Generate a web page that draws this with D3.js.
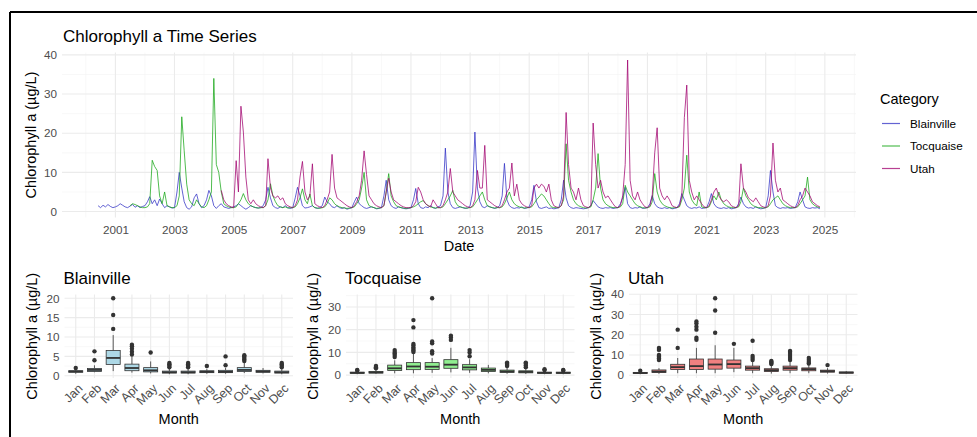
<!DOCTYPE html>
<html><head><meta charset="utf-8">
<script src="https://cdn.jsdelivr.net/npm/d3@7"></script>
<style>
body{margin:0;background:#fff;}
svg text{font-family:"Liberation Sans",Arial,sans-serif;}
</style>
</head><body>
<svg id="chart" width="977" height="437"></svg>
<script>
// ---------------- DATA ----------------
const seriesNames = ["Blainville", "Tocquaise", "Utah"];
const seriesColors = ["#2f2fc4", "#16a516", "#a0006e"];
const boxFills = ["#ADD8E6", "#90EE90", "#F08080"];
const monthLabels = ["Jan","Feb","Mar","Apr","May","Jun","Jul","Aug","Sep","Oct","Nov","Dec"];
const yearTicks = [2001,2003,2005,2007,2009,2011,2013,2015,2017,2019,2021,2023,2025];
const topYTicks = [0,10,20,30,40];

// monthly values (start year, start month index 0-11)
const blainvilleStart = [2000, 5];
const blainvilleValues = [
  /*2000*/ 1.5,1.0,1.6,1.2,1.8,1.3,1.0,
  /*2001*/ 1.2,1.5,2.0,1.6,1.2,1.0,1.4,1.8,1.1,1.5,1.0,1.3,
  /*2002*/ 1.5,2.5,3.8,2.0,3.0,1.5,3.2,2.0,1.0,1.5,1.2,0.9,
  /*2003*/ 1.0,5.0,10.0,6.0,2.5,1.0,0.6,1.2,3.5,4.5,2.0,1.0,
  /*2004*/ 1.5,3.0,5.4,4.0,1.5,0.8,1.5,2.0,1.2,1.0,0.8,1.0,
  /*2005*/ 1.2,1.5,2.0,1.5,1.0,0.6,1.0,1.5,1.2,1.0,0.9,1.0,
  /*2006*/ 1.5,3.0,6.2,3.5,1.5,1.0,0.8,1.2,1.0,1.5,1.0,0.8,
  /*2007*/ 1.0,3.5,6.2,4.0,1.5,0.9,1.0,1.2,1.5,1.0,0.8,1.0,
  /*2008*/ 1.5,3.7,2.5,2.0,1.2,1.0,1.5,1.0,0.8,1.0,0.6,0.8,
  /*2009*/ 1.0,2.5,3.7,2.0,1.5,1.0,0.8,1.0,1.2,1.0,0.7,0.8,
  /*2010*/ 1.0,4.0,8.0,3.0,1.5,1.0,0.8,1.2,1.0,0.8,0.7,0.8,
  /*2011*/ 1.0,3.0,5.9,2.0,1.0,0.8,1.2,1.0,1.5,1.0,0.8,1.2,
  /*2012*/ 1.5,4.0,16.2,5.0,2.0,1.0,0.8,1.0,1.2,1.0,0.8,0.9,
  /*2013*/ 1.5,5.0,20.3,6.0,2.5,1.2,1.0,1.5,1.2,1.0,0.8,1.0,
  /*2014*/ 1.5,4.0,12.3,3.0,1.5,1.0,0.8,1.0,0.9,1.2,0.8,0.9,
  /*2015*/ 1.2,3.0,6.7,2.5,1.0,0.8,1.0,1.2,0.8,0.9,0.7,0.8,
  /*2016*/ 1.0,3.0,8.0,3.5,1.5,1.0,0.8,1.0,0.9,0.8,0.7,0.8,
  /*2017*/ 1.0,1.5,2.8,2.0,1.2,0.9,0.8,1.0,0.9,1.0,0.8,0.9,
  /*2018*/ 1.0,2.0,3.5,6.2,2.0,1.0,0.8,1.0,0.9,1.2,0.8,0.9,
  /*2019*/ 1.0,2.0,4.1,2.0,1.2,0.9,0.8,1.0,0.8,1.0,0.7,0.8,
  /*2020*/ 1.0,2.0,4.6,3.0,1.5,1.0,0.8,1.0,0.9,1.2,0.8,0.9,
  /*2021*/ 1.0,2.5,4.6,2.0,1.2,0.9,0.8,1.0,0.8,1.0,0.7,0.8,
  /*2022*/ 1.0,2.0,3.7,2.0,1.2,0.9,1.0,0.8,1.2,0.9,0.7,0.8,
  /*2023*/ 1.0,4.0,10.5,5.0,1.5,1.0,0.8,1.0,0.9,1.0,0.8,0.9,
  /*2024*/ 1.0,2.5,5.0,3.0,1.2,0.9,0.8,1.0,0.9,1.0,0.7
];
const tocquaiseStart = [2001, 6];
const tocquaiseValues = [
  /*2001*/ 1.5,2.0,1.8,1.5,1.2,1.0,
  /*2002*/ 1.0,1.2,2.0,13.1,11.5,10.5,4.0,2.0,5.0,1.5,1.2,1.0,
  /*2003*/ 1.0,1.5,4.0,24.2,15.5,7.0,3.0,2.0,1.5,3.0,2.0,1.2,
  /*2004*/ 1.0,1.5,3.0,5.0,34.0,12.0,10.0,5.0,2.0,1.5,1.2,1.0,
  /*2005*/ 1.0,1.2,2.0,3.0,4.6,3.0,2.0,1.5,1.2,1.0,0.9,1.0,
  /*2006*/ 1.0,1.5,3.0,7.1,4.0,2.5,1.5,1.2,1.0,1.2,0.9,1.0,
  /*2007*/ 1.0,1.2,2.0,3.5,5.8,3.0,2.0,4.5,1.5,1.0,0.9,0.8,
  /*2008*/ 1.0,1.2,2.0,3.5,3.0,2.0,1.5,1.2,1.0,0.9,0.8,0.9,
  /*2009*/ 1.0,1.2,2.0,3.0,6.0,10.0,3.0,1.5,1.2,1.0,0.8,0.9,
  /*2010*/ 1.0,1.5,5.0,9.7,4.0,2.5,1.5,1.2,1.0,0.9,0.8,0.9,
  /*2011*/ 1.0,1.2,1.5,2.0,2.5,2.8,2.0,1.5,1.2,1.0,0.9,1.0,
  /*2012*/ 1.0,1.2,2.0,3.0,4.0,5.4,2.5,1.5,1.2,1.0,0.9,0.9,
  /*2013*/ 1.0,1.2,2.0,3.0,4.0,5.0,3.0,1.5,1.2,1.0,0.9,1.0,
  /*2014*/ 1.0,1.2,2.0,3.5,5.0,3.0,2.0,1.5,1.2,1.0,0.9,1.0,
  /*2015*/ 1.0,1.2,2.0,3.0,3.7,4.5,4.0,3.0,2.0,1.2,1.0,1.0,
  /*2016*/ 1.0,1.5,3.0,17.3,8.0,5.0,3.0,2.0,1.5,1.2,1.0,0.9,
  /*2017*/ 1.0,1.2,3.0,6.0,14.8,6.0,3.0,2.0,1.5,1.2,1.0,1.0,
  /*2018*/ 1.0,1.2,2.0,6.7,5.0,4.0,3.0,2.0,1.5,1.2,1.0,0.9,
  /*2019*/ 1.0,1.2,2.5,9.7,5.0,3.0,2.0,1.5,1.2,1.0,0.9,1.0,
  /*2020*/ 1.0,1.2,3.0,6.0,14.4,5.0,3.0,2.0,1.5,5.0,1.2,1.0,
  /*2021*/ 1.0,1.2,2.5,4.0,3.0,5.0,3.0,2.0,1.5,1.2,1.0,1.0,
  /*2022*/ 1.0,1.2,2.5,6.0,4.0,3.0,2.0,1.5,1.2,1.0,1.0,0.9,
  /*2023*/ 1.0,1.2,2.0,3.0,3.5,4.0,3.0,2.0,1.5,1.2,1.0,1.0,
  /*2024*/ 1.0,1.2,2.0,3.0,4.0,8.8,3.0,2.0,1.5,1.2,1.0
];
const utahStart = [2004, 7];
const utahValues = [
  /*2004*/ 5.4,3.0,2.0,1.5,1.2,
  /*2005*/ 1.0,13.0,5.0,26.9,20.3,8.8,3.0,2.0,3.0,2.0,1.5,1.2,
  /*2006*/ 1.0,1.5,13.5,6.0,4.0,3.5,4.0,3.0,3.5,2.0,1.5,1.2,
  /*2007*/ 1.0,1.5,3.0,8.8,12.8,5.0,3.0,4.0,12.2,2.0,1.5,1.2,
  /*2008*/ 1.0,1.5,3.0,5.0,14.6,6.0,3.5,3.0,2.5,2.0,1.5,1.2,
  /*2009*/ 1.0,1.5,2.5,4.0,8.0,15.5,9.5,4.0,3.0,2.0,1.5,1.2,
  /*2010*/ 1.0,1.5,5.0,8.5,5.0,3.0,2.5,2.0,1.5,1.2,1.0,1.0,
  /*2011*/ 1.0,1.5,2.5,6.2,5.0,3.0,2.0,1.5,1.2,3.0,2.0,1.0,
  /*2012*/ 1.0,1.5,3.0,5.0,11.0,5.0,4.0,3.0,2.5,2.0,1.5,1.2,
  /*2013*/ 1.0,1.5,3.0,10.5,6.0,6.0,16.9,3.0,2.5,2.0,1.5,1.2,
  /*2014*/ 1.0,1.5,3.0,5.0,6.0,12.4,4.0,7.0,3.0,2.0,1.5,1.2,
  /*2015*/ 1.0,1.5,6.0,7.0,6.0,7.0,6.5,5.0,7.0,3.0,1.5,1.2,
  /*2016*/ 1.0,1.5,4.0,25.3,12.0,6.0,5.0,3.0,6.0,3.0,1.5,1.2,
  /*2017*/ 1.0,1.5,22.6,12.0,6.0,8.0,5.0,3.5,4.0,3.0,2.0,1.2,
  /*2018*/ 1.0,1.5,4.0,12.0,38.7,8.0,4.0,3.0,5.0,3.0,2.0,1.2,
  /*2019*/ 1.0,1.5,4.0,15.0,21.4,6.0,4.0,3.0,4.0,3.0,1.5,1.2,
  /*2020*/ 1.0,1.5,4.0,24.0,32.3,8.0,5.0,3.0,4.0,3.0,2.0,1.2,
  /*2021*/ 1.0,1.5,3.0,5.0,6.0,4.0,3.0,2.5,3.0,2.5,1.5,1.2,
  /*2022*/ 1.0,1.5,12.2,6.0,5.0,3.5,3.0,2.5,3.5,2.5,1.5,1.2,
  /*2023*/ 1.0,1.5,4.0,17.5,8.0,5.0,6.0,3.0,2.5,2.0,1.5,1.2,
  /*2024*/ 1.0,1.5,3.0,4.0,6.0,5.0,4.0,2.5,2.0,1.5,1.2
];

// monthly boxplot statistics: [lower whisker, Q1, median, Q3, upper whisker]
const blainvilleBoxStats = [
  [0.5,0.9,1.1,1.3,1.8],[0.9,1.1,1.5,1.9,2.7],[1.2,2.9,4.6,6.5,10.5],[0.8,1.3,2.0,3.0,5.0],
  [0.6,1.0,1.4,2.1,3.7],[0.4,0.7,0.9,1.2,1.8],[0.4,0.7,0.9,1.2,1.7],[0.5,0.8,1.0,1.3,1.8],
  [0.5,0.8,1.0,1.4,2.0],[0.7,1.1,1.5,2.1,3.3],[0.6,0.9,1.1,1.4,2.0],[0.4,0.7,0.9,1.2,1.7]
];
const blainvilleOutliers = [
  [2.0],[4.0,6.3],[12.1,15.7,20.0],[5.5,6.2,7.0,7.6,8.0],[6.0],[2.2,2.6,3.0,3.3],
  [2.2,2.6,3.0,3.3],[2.5],[2.7,5.0],[3.8,4.2,4.6,5.0,5.3],[],[2.2,2.6,3.0,3.3]
];
const tocquaiseBoxStats = [
  [0.4,0.8,1.0,1.3,1.8],[0.5,0.9,1.2,1.6,2.4],[0.8,2.0,3.0,4.4,6.5],[0.8,2.4,3.8,5.5,9.5],
  [1.0,2.5,3.7,5.5,7.5],[1.2,3.0,4.6,6.8,12.0],[1.0,2.3,3.4,4.6,7.0],[0.8,1.6,2.3,3.1,4.5],
  [0.6,1.2,1.6,2.2,3.5],[0.5,1.0,1.4,1.9,3.0],[0.4,0.8,1.0,1.3,1.8],[0.4,0.8,1.0,1.3,1.8]
];
const tocquaiseOutliers = [
  [2.0,2.3],[3.0,3.5,4.0],[8.0,8.8,9.5,10.2,11.0],[10.2,10.8,11.5,12.2,13.0,13.7,21.0,24.2],
  [9.5,10.5,14.0,14.8,33.8],[15.5,16.5,17.3],[8.3,10.0,11.0],[],
  [4.0,4.5,5.0,5.5],[3.5,4.2,5.0,5.5],[2.2,2.6],[2.0,2.3]
];
const utahBoxStats = [
  [0.5,0.9,1.1,1.4,1.9],[0.7,1.3,1.8,2.6,3.5],[1.0,2.8,4.0,5.4,8.5],[1.0,2.8,4.5,8.0,13.5],
  [1.0,3.0,5.3,8.0,14.8],[1.5,3.5,5.5,7.5,13.5],[1.0,2.5,3.5,4.5,6.5],[0.8,1.8,2.5,3.2,4.8],
  [1.0,2.5,3.5,4.5,6.5],[1.0,2.2,3.0,3.6,5.0],[0.8,1.5,2.0,2.5,3.5],[0.6,1.0,1.3,1.6,2.0]
];
const utahOutliers = [
  [2.2],[7.5,8.2,9.0,9.5,10.0,12.5,13.5],[13.5,22.5],[17.5,18.5,22.5,24.0,25.5,26.5],
  [21.0,32.0,38.0],[15.5],[7.5,8.5,9.5,17.0],[5.5,6.0,6.5,7.0],
  [7.5,8.5,9.5,10.5,11.5,12.0],[5.8,6.5,7.5,8.5],[5.0],[]
];

// ---------------- DRAWING ----------------
const svg = d3.select("#chart");
const tickColor = "#4D4D4D", gridMajor = "#EBEBEB", gridMinor = "#F3F3F3";

// outer frame (top and left edge)
svg.append("line").attr("x1", 10).attr("x2", 977).attr("y1", 12).attr("y2", 12).attr("stroke", "#000").attr("stroke-width", 2);
svg.append("line").attr("x1", 10).attr("x2", 10).attr("y1", 12).attr("y2", 437).attr("stroke", "#000").attr("stroke-width", 2);

function toSeries(start, vals) {
  return vals.map((v, i) => ({ date: new Date(start[0], start[1] + i, 1), value: v }));
}
const seriesData = [
  toSeries(blainvilleStart, blainvilleValues),
  toSeries(tocquaiseStart, tocquaiseValues),
  toSeries(utahStart, utahValues)
];

function expand(ext, f = 0.05) {
  const d = ext[1] - ext[0];
  return [ext[0] - d * f, ext[1] + d * f];
}

// ---- top time series panel
const P = { l: 62, r: 856, t: 52.5, b: 217.5 };
const allPts = seriesData.flat();
const tExt = d3.extent(allPts, d => +d.date);
const x = d3.scaleTime().domain(expand(tExt).map(v => new Date(v))).range([P.l, P.r]);
const vExt = d3.extent(allPts, d => d.value);
const y = d3.scaleLinear().domain(expand([Math.min(0.4, vExt[0]), vExt[1]])).range([P.b, P.t]);

const gTop = svg.append("g");
const minorYears = d3.range(1998, 2030, 2).map(yr => new Date(yr, 0, 1)).filter(d => d >= x.domain()[0] && d <= x.domain()[1]);
gTop.selectAll(".vminor").data(minorYears).join("line")
  .attr("x1", d => x(d)).attr("x2", d => x(d)).attr("y1", P.t).attr("y2", P.b)
  .attr("stroke", gridMinor).attr("stroke-width", 0.6);
gTop.selectAll(".hminor").data([5, 15, 25, 35]).join("line")
  .attr("x1", P.l).attr("x2", P.r).attr("y1", d => y(d)).attr("y2", d => y(d))
  .attr("stroke", gridMinor).attr("stroke-width", 0.6);
gTop.selectAll(".vmajor").data(yearTicks.map(yr => new Date(yr, 0, 1))).join("line")
  .attr("x1", d => x(d)).attr("x2", d => x(d)).attr("y1", P.t).attr("y2", P.b)
  .attr("stroke", gridMajor).attr("stroke-width", 1.1);
gTop.selectAll(".hmajor").data(topYTicks).join("line")
  .attr("x1", P.l).attr("x2", P.r).attr("y1", d => y(d)).attr("y2", d => y(d))
  .attr("stroke", gridMajor).attr("stroke-width", 1.1);

const line = d3.line().x(d => x(d.date)).y(d => y(d.value));
seriesData.forEach((s, i) => {
  gTop.append("path").datum(s).attr("d", line)
    .attr("fill", "none").attr("stroke", seriesColors[i])
    .attr("stroke-width", 1).attr("stroke-opacity", 0.75).attr("stroke-linejoin", "round");
});

const xAxis = d3.axisBottom(x).tickValues(yearTicks.map(yr => new Date(yr, 0, 1)))
  .tickFormat(d3.timeFormat("%Y")).tickSize(0).tickPadding(8);
const gx = svg.append("g").attr("transform", `translate(0,${P.b})`).call(xAxis);
gx.select(".domain").remove();
gx.selectAll("text").attr("fill", tickColor).style("font-size", "11.7px");

const yAxis = d3.axisLeft(y).tickValues(topYTicks).tickSize(0).tickPadding(5);
const gy = svg.append("g").attr("transform", `translate(${P.l},0)`).call(yAxis);
gy.select(".domain").remove();
gy.selectAll("text").attr("fill", tickColor).style("font-size", "11.7px");

svg.append("text").attr("x", (P.l + P.r) / 2).attr("y", 251).attr("text-anchor", "middle")
  .style("font-size", "14.5px").attr("fill", "#000").text("Date");
svg.append("text").attr("transform", `translate(36,${(P.t + P.b) / 2}) rotate(-90)`)
  .attr("text-anchor", "middle").style("font-size", "14.5px").attr("fill", "#000")
  .text("Chlorophyll a (µg/L)");
svg.append("text").attr("x", 63).attr("y", 42).style("font-size", "17px").attr("fill", "#000")
  .text("Chlorophyll a Time Series");

// legend
const lg = svg.append("g");
lg.append("text").attr("x", 880).attr("y", 104).style("font-size", "14.5px").attr("fill", "#000").text("Category");
seriesNames.forEach((n, i) => {
  const yy = 123.5 + i * 22.5;
  lg.append("line").attr("x1", 882).attr("x2", 900).attr("y1", yy).attr("y2", yy)
    .attr("stroke", seriesColors[i]).attr("stroke-width", 1.2).attr("stroke-opacity", 0.75);
  lg.append("text").attr("x", 910).attr("y", yy).attr("dy", "0.35em")
    .style("font-size", "11.7px").attr("fill", "#000").text(n);
});

// ---- boxplot panels
const boxPanels = [
  { name: "Blainville", stats: blainvilleBoxStats, outliers: blainvilleOutliers, fill: boxFills[0], l: 64.5, r: 293, ticks: [0,5,10,15,20], minor: [2.5,7.5,12.5,17.5] },
  { name: "Tocquaise", stats: tocquaiseBoxStats, outliers: tocquaiseOutliers, fill: boxFills[1], l: 346, r: 574.5, ticks: [0,10,20,30], minor: [5,15,25,35] },
  { name: "Utah", stats: utahBoxStats, outliers: utahOutliers, fill: boxFills[2], l: 629, r: 857.5, ticks: [0,10,20,30,40], minor: [5,15,25,35] }
];
const BT = 294.5, BB = 378;

boxPanels.forEach(p => {
  const g = svg.append("g");
  const xb = d3.scalePoint().domain(monthLabels).range([p.l, p.r]).padding(0.6);
  const allV = p.stats.flat().concat(p.outliers.flat());
  const yb = d3.scaleLinear().domain(expand(d3.extent(allV))).range([BB, BT]);
  const bw = xb.step() * 0.75;

  g.selectAll(".hmin").data(p.minor.filter(v => v <= yb.domain()[1])).join("line")
    .attr("x1", p.l).attr("x2", p.r).attr("y1", d => yb(d)).attr("y2", d => yb(d))
    .attr("stroke", gridMinor).attr("stroke-width", 0.6);
  g.selectAll(".hmaj").data(p.ticks).join("line")
    .attr("x1", p.l).attr("x2", p.r).attr("y1", d => yb(d)).attr("y2", d => yb(d))
    .attr("stroke", gridMajor).attr("stroke-width", 1.1);
  g.selectAll(".vmaj").data(monthLabels).join("line")
    .attr("x1", d => xb(d)).attr("x2", d => xb(d)).attr("y1", BT).attr("y2", BB)
    .attr("stroke", gridMajor).attr("stroke-width", 1.1);

  const boxes = g.selectAll(".box").data(p.stats.map((s, i) => ({ m: monthLabels[i], s, o: p.outliers[i] }))).join("g");
  boxes.append("line").attr("x1", d => xb(d.m)).attr("x2", d => xb(d.m))
    .attr("y1", d => yb(d.s[0])).attr("y2", d => yb(d.s[1])).attr("stroke", "#333").attr("stroke-width", 0.8);
  boxes.append("line").attr("x1", d => xb(d.m)).attr("x2", d => xb(d.m))
    .attr("y1", d => yb(d.s[3])).attr("y2", d => yb(d.s[4])).attr("stroke", "#333").attr("stroke-width", 0.8);
  boxes.append("rect").attr("x", d => xb(d.m) - bw / 2).attr("width", bw)
    .attr("y", d => yb(d.s[3])).attr("height", d => Math.max(0.5, yb(d.s[1]) - yb(d.s[3])))
    .attr("fill", p.fill).attr("stroke", "#333").attr("stroke-width", 0.8);
  boxes.append("line").attr("x1", d => xb(d.m) - bw / 2).attr("x2", d => xb(d.m) + bw / 2)
    .attr("y1", d => yb(d.s[2])).attr("y2", d => yb(d.s[2])).attr("stroke", "#333").attr("stroke-width", 1.8);
  boxes.selectAll("circle").data(d => d.o.map(v => ({ m: d.m, v }))).join("circle")
    .attr("cx", d => xb(d.m)).attr("cy", d => yb(d.v)).attr("r", 2.2).attr("fill", "#333");

  const ax = d3.axisLeft(yb).tickValues(p.ticks).tickSize(0).tickPadding(5);
  const gya = svg.append("g").attr("transform", `translate(${p.l},0)`).call(ax);
  gya.select(".domain").remove();
  gya.selectAll("text").attr("fill", tickColor).style("font-size", "11.7px");

  const bx = d3.axisBottom(xb).tickSize(0);
  const gxa = svg.append("g").attr("transform", `translate(0,${BB})`).call(bx);
  gxa.select(".domain").remove();
  gxa.selectAll("text").attr("fill", tickColor).style("font-size", "12.5px")
    .attr("x", 0).attr("y", 0).attr("dy", "0.35em")
    .attr("transform", "translate(4,8) rotate(-45)").style("text-anchor", "end");

  svg.append("text").attr("x", p.l - 1).attr("y", 283.5).style("font-size", "17px").attr("fill", "#000").text(p.name);
  svg.append("text").attr("x", (p.l + p.r) / 2).attr("y", 424).attr("text-anchor", "middle")
    .style("font-size", "14.5px").attr("fill", "#000").text("Month");
  svg.append("text").attr("transform", `translate(${p.l - 28},${(BT + BB) / 2}) rotate(-90)`)
    .attr("text-anchor", "middle").style("font-size", "14.5px").attr("fill", "#000")
    .text("Chlorophyll a (µg/L)");
});
</script>
</body></html>
